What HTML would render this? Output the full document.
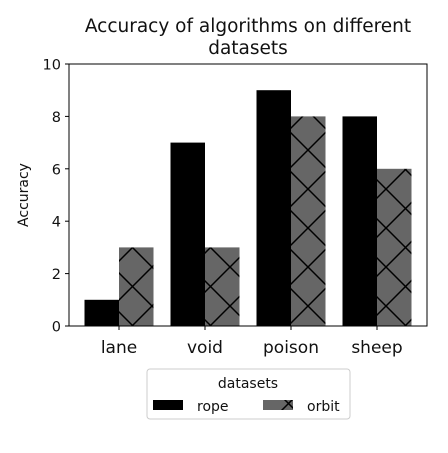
<!DOCTYPE html>
<html><head><meta charset="utf-8"><style>
body{margin:0;background:#fff;}
svg text{font-family:"DejaVu Sans","Liberation Sans",sans-serif;fill:#111;}
</style></head><body>
<svg id="chart" width="448" height="448" viewBox="0 0 448 448">
<defs>
<pattern id="hatch" patternUnits="userSpaceOnUse" width="39" height="39" x="35" y="33">
<rect width="39" height="39" fill="#666"/>
<path d="M0,0 L39,39 M39,0 L0,39" stroke="#000" stroke-width="1.5"/>
</pattern>
</defs>
<text x="248" y="32" font-size="18.5" text-anchor="middle">Accuracy of algorithms on different</text>
<text x="248" y="54" font-size="18.5" text-anchor="middle">datasets</text>
<text transform="translate(28,195) rotate(-90)" font-size="14" text-anchor="middle">Accuracy</text>
<g id="bars"></g>
<g id="axes"></g>
<g>
<rect x="147" y="369" width="203" height="50" rx="3" fill="#fff" stroke="#ccc"/>
<text x="248" y="388" font-size="14" text-anchor="middle">datasets</text>
<rect x="153" y="400" width="30" height="10" fill="#000"/>
<text x="197" y="411" font-size="14">rope</text>
<rect x="263" y="400" width="30" height="10" fill="url(#hatch)"/>
<text x="307" y="411" font-size="14">orbit</text>
</g>
</svg>
<script>
const categories = ["lane","void","poison","sheep"];
const ropeValues = [1,7,9,8];
const orbitValues = [3,3,8,6];
const yTicks = [0,2,4,6,8,10];
const NS="http://www.w3.org/2000/svg";
const y0=326,y1=64,yMax=10;
const yS=v=>y0-(y0-y1)*v/yMax;
const xC=i=>119+86*i;
const bw=34.5;
const bars=document.getElementById('bars'),axes=document.getElementById('axes');
function mk(t,a,p){const e=document.createElementNS(NS,t);for(const k in a)e.setAttribute(k,a[k]);p.appendChild(e);return e;}
categories.forEach((c,i)=>{
 const r=mk('rect',{x:xC(i)-bw,y:yS(ropeValues[i]),width:bw,height:y0-yS(ropeValues[i]),fill:'#000'},bars);
 
 
 const o=mk('rect',{x:xC(i),y:yS(orbitValues[i]),width:bw,height:y0-yS(orbitValues[i]),fill:'url(#hatch)'},bars);
 
 
 const tk=mk('line',{x1:xC(i),x2:xC(i),y1:y0,y2:y0+4,stroke:'#000'},axes);
 
 
 const l=mk('text',{x:xC(i),y:353,'font-size':17,'text-anchor':'middle'},axes);
 l.textContent=c;
 
 
});
yTicks.forEach(v=>{
 const tk=mk('line',{x1:65,x2:69,y1:yS(v),y2:yS(v),stroke:'#000'},axes);
 
 
 const l=mk('text',{x:61,y:yS(v)+5.5,'font-size':14.5,'text-anchor':'end'},axes);
 l.textContent=v;
 
 
});
const f=mk('rect',{x:69,y:y1,width:358,height:y0-y1,fill:'none',stroke:'#000','stroke-width':1},axes);


</script>
</body></html>
